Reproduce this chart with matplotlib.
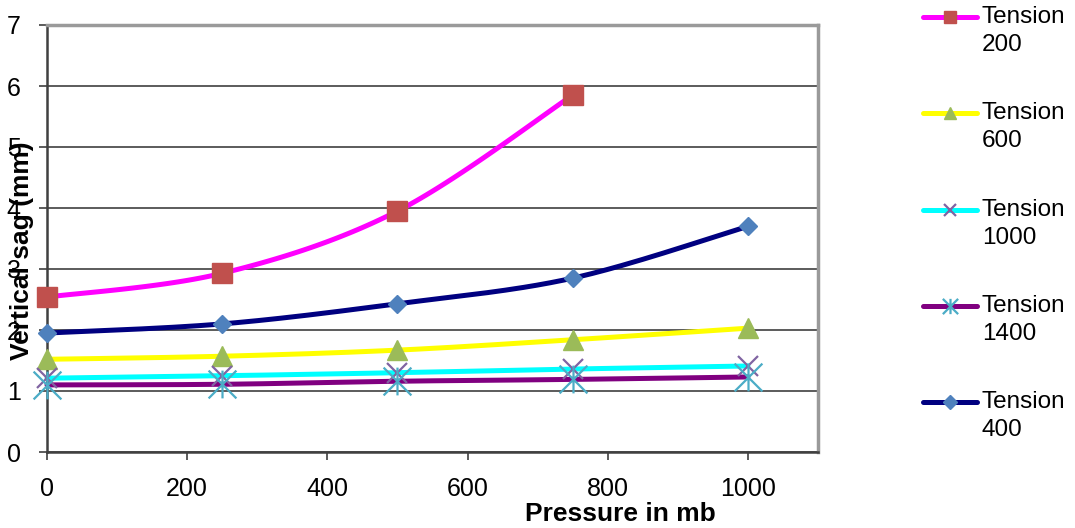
import numpy as np
import matplotlib
matplotlib.use("Agg")
import matplotlib.pyplot as plt
from matplotlib.path import Path
from matplotlib.lines import Line2D

plt.rcParams['font.family'] = ['Liberation Sans', 'DejaVu Sans']

# Pressure (mb) and vertical sag (mm) for each cable tension
pressure = [0, 250, 500, 750, 1000]
sag_t200 = [2.54, 2.93, 3.95, 5.85]
sag_t600 = [1.52, 1.57, 1.67, 1.84, 2.03]
sag_t1000 = [1.21, 1.25, 1.30, 1.36, 1.41]
sag_t1400 = [1.10, 1.11, 1.16, 1.19, 1.23]
sag_t400 = [1.95, 2.10, 2.43, 2.85, 3.70]

series_names = ["Tension\n200", "Tension\n600", "Tension\n1000",
                "Tension\n1400", "Tension\n400"]
series_values = [sag_t200, sag_t600, sag_t1000, sag_t1400, sag_t400]
x_ticks = [0, 200, 400, 600, 800, 1000]
y_ticks = [0, 1, 2, 3, 4, 5, 6, 7]

# Asterisk marker: a cross with a vertical stroke through it
asterisk = Path([(-0.5, -0.5), (0.5, 0.5), (-0.5, 0.5), (0.5, -0.5),
                 (0, -0.5), (0, 0.5)],
                [Path.MOVETO, Path.LINETO, Path.MOVETO, Path.LINETO,
                 Path.MOVETO, Path.LINETO])

styles = [
    dict(color="#FF00FF", marker="s", mfc="#C0504D", mec="#C0504D", ms=14, mew=1, lg_ms=9),
    dict(color="#FFFF00", marker="^", mfc="#9BBB59", mec="#9BBB59", ms=14, mew=1, lg_ms=9),
    dict(color="#00FFFF", marker="x", mfc="none", mec="#8064A2", ms=14, mew=1.6, lg_ms=8),
    dict(color="#800080", marker=asterisk, mfc="none", mec="#4BACC6", ms=20, mew=1.6, lg_ms=11),
    dict(color="#000080", marker="D", mfc="#4F81BD", mec="#4F81BD", ms=9.5, mew=1, lg_ms=7),
]


def smooth(xs, ys, n=40):
    """Cubic Bezier smoothing through the points (Catmull-Rom control points)."""
    pts = np.column_stack([xs, ys]).astype(float)
    out = [pts[0]]
    m = len(pts)
    for i in range(m - 1):
        p0 = pts[max(i - 1, 0)]
        p1 = pts[i]
        p2 = pts[i + 1]
        p3 = pts[min(i + 2, m - 1)]
        c1 = p1 + (p2 - p0) / 6.0
        c2 = p2 - (p3 - p1) / 6.0
        t = np.linspace(0, 1, n)[1:, None]
        seg = ((1 - t) ** 3) * p1 + 3 * ((1 - t) ** 2) * t * c1 + \
              3 * (1 - t) * t ** 2 * c2 + t ** 3 * p2
        out.extend(seg)
    out = np.array(out)
    return out[:, 0], out[:, 1]


fig = plt.figure(figsize=(10.75, 5.28), dpi=100)
ax = fig.add_axes([47 / 1075, 1 - 452 / 528, (818 - 47) / 1075, (452 - 25) / 528])

for vals, st in zip(series_values, styles):
    xs = pressure[:len(vals)]
    sx, sy = smooth(xs, vals)
    ax.plot(sx, sy, color=st["color"], lw=3.6, solid_capstyle="round", zorder=3,
            clip_on=False)
    ax.plot(xs, vals, ls="none", marker=st["marker"], ms=st["ms"],
            mfc=st["mfc"], mec=st["mec"], mew=st["mew"], zorder=4, clip_on=False)

ax.set_xlim(0, 1100)
ax.set_ylim(0, 7)
ax.set_xticks(x_ticks)
ax.set_yticks(y_ticks)
ax.tick_params(axis="both", labelsize=18, direction="out", length=6, width=1.2,
               color="#404040")
ax.tick_params(axis="x", pad=12)
ax.tick_params(axis="y", pad=13)

ax.yaxis.grid(True, color="#404040", lw=1.2)
ax.set_axisbelow(True)
for side in ("top", "right"):
    ax.spines[side].set_color("#9a9a9a")
    ax.spines[side].set_linewidth(2.5)
for side in ("left", "bottom"):
    ax.spines[side].set_color("#404040")
    ax.spines[side].set_linewidth(1.8)

fig.text(620 / 1075, 1 - 514 / 528, "Pressure in mb", fontsize=19,
         fontweight="bold", ha="center", va="center")
fig.text(22 / 1075, 1 - 251 / 528, "Vertical sag (mm)", fontsize=19,
         fontweight="bold", ha="center", va="center", rotation=90)

# Legend column on the right
leg_top = 17
leg_step = 96.3
for k, (name, st) in enumerate(zip(series_names, styles)):
    y = 1 - (leg_top + k * leg_step) / 528
    fig.add_artist(Line2D([923 / 1075, 977 / 1075], [y, y], transform=fig.transFigure,
                          color=st["color"], lw=3.6, solid_capstyle="round"))
    fig.add_artist(Line2D([950 / 1075], [y], transform=fig.transFigure, ls="none",
                          marker=st["marker"], ms=st["lg_ms"], mfc=st["mfc"],
                          mec=st["mec"], mew=st["mew"]))
    first, second = name.split("\n")
    fig.text(982 / 1075, y, first, fontsize=17.5, ha="left", va="center")
    fig.text(982 / 1075, y - 28 / 528, second, fontsize=17.5, ha="left", va="center")

fig.savefig("out.png", dpi=100)
